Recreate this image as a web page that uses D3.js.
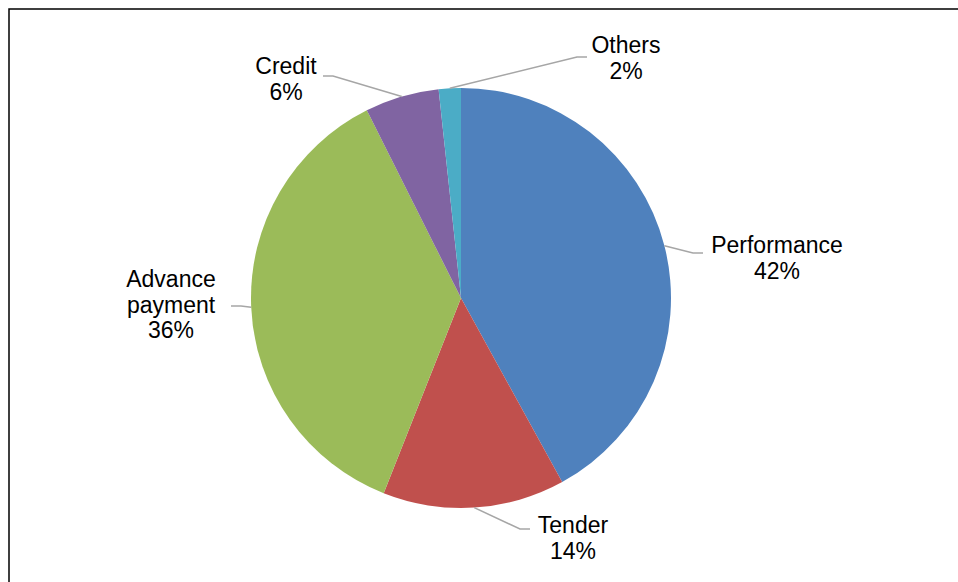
<!DOCTYPE html>
<html>
  <head>
    <script src="https://d3js.org/d3.v7.min.js"></script>
    <style>
      html, body {
        margin: 0;
        padding: 0;
        overflow: hidden;
        background: #fff;
      }
      .label text {
        font: 23px "Liberation Sans", Arial, sans-serif;
        fill: #000;
      }
      .leader {
        fill: none;
        stroke: #a6a6a6;
        stroke-width: 1.5px;
      }
    </style>
  </head>
  <body>
    <div id="chart"></div>
    <script>
      // Slice data, clockwise from 12 o'clock
      const categories = ["Performance", "Tender", "Advance payment", "Credit", "Others"];
      const values = [42.0, 14.0, 36.6, 5.7, 1.7];
      const shownPct = ["42%", "14%", "36%", "6%", "2%"];
      const colors = ["#4f81bd", "#c0504d", "#9bbb59", "#8064a2", "#4bacc6"];

      // Label text lines (category wrapped as in the original)
      const labelLines = [["Performance"], ["Tender"], ["Advance", "payment"], ["Credit"], ["Others"]];

      const width = 958, height = 582;
      const cx = 461, cy = 298, radius = 210;

      // Label placement: elbow of the leader line, side of the label, text centre x, first baseline
      const labelLayout = [
        { elbow: [693, 253], dir: 1, tx: 777, ty: 253 },
        { elbow: [520, 529], dir: 1, tx: 573, ty: 533 },
        { elbow: [241, 306], dir: -1, tx: 171, ty: 287 },
        { elbow: [333, 76], dir: -1, tx: 286, ty: 74 },
        { elbow: [577, 57], dir: 1, tx: 626, ty: 53 }
      ];

      const svg = d3.select("#chart")
        .append("svg")
        .attr("width", width)
        .attr("height", height);

      // outer frame (runs off the right and bottom edges)
      svg.append("rect")
        .attr("x", 9)
        .attr("y", 9)
        .attr("width", width)
        .attr("height", height)
        .attr("fill", "none")
        .attr("stroke", "#000")
        .attr("stroke-width", 1.5);

      const data = categories.map((c, i) => ({ name: c, value: values[i], i }));

      const pie = d3.pie()
        .value(d => d.value)
        .sort(null);

      const arc = d3.arc()
        .innerRadius(0)
        .outerRadius(radius);

      const arcs = pie(data);

      const g = svg.append("g")
        .attr("transform", `translate(${cx},${cy})`);

      g.selectAll("path.slice")
        .data(arcs)
        .enter()
        .append("path")
        .attr("class", "slice")
        .attr("d", arc)
        .attr("fill", d => colors[d.data.i]);

      // leader lines + labels
      const labels = svg.append("g").attr("class", "label");

      arcs.forEach(a => {
        const i = a.data.i;
        const L = labelLayout[i];
        const mid = (a.startAngle + a.endAngle) / 2;
        const px = cx + radius * Math.sin(mid);
        const py = cy - radius * Math.cos(mid);
        const end = [L.elbow[0] + 10 * L.dir, L.elbow[1]];

        labels.append("path")
          .attr("class", "leader")
          .attr("d", d3.line()([[px, py], L.elbow, end]));

        const lines = labelLines[i].concat([shownPct[i]]);
        const t = labels.append("text")
          .attr("text-anchor", "middle");
        lines.forEach((s, k) => {
          t.append("tspan")
            .attr("x", L.tx)
            .attr("y", L.ty + k * 25.5)
            .text(s);
        });
      });
    </script>
  </body>
</html>
